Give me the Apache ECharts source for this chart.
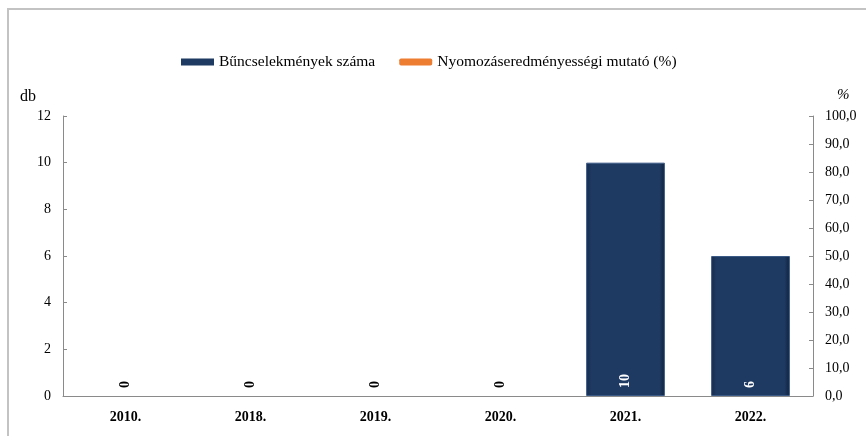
<!DOCTYPE html>
<html>
<head>
<meta charset="utf-8">
<script src="https://cdn.jsdelivr.net/npm/echarts@6/dist/echarts.min.js"></script>
<style>
  html, body { margin: 0; padding: 0; background: #fff; }
  #chart { width: 866px; height: 436px; }
</style>
</head>
<body>
<div id="chart"></div>
<script>
// Years on the category axis
var years = ['2010.', '2018.', '2019.', '2020.', '2021.', '2022.'];
// Number of recorded offences (db)
var offenceCounts = [0, 0, 0, 0, 10, 6];
// Investigation success rate (%), no values recorded
var successRate = [null, null, null, null, null, null];
// Tick settings for the two value axes
var countAxisMax = 12, countAxisStep = 2;
var rateAxisMax = 100, rateAxisStep = 10;

var serif = '"Liberation Serif", "Times New Roman", serif';
var navy = '#1f3a62';

var chart = echarts.init(document.getElementById('chart'), null, { renderer: 'canvas' });

var barData = offenceCounts.map(function (v) {
  return {
    value: v,
    itemStyle: { borderWidth: v > 0 ? 1 : 0 },
    label: { color: v > 0 ? '#ffffff' : '#000000' }
  };
});

chart.setOption({
  backgroundColor: '#ffffff',
  animation: false,
  textStyle: { fontFamily: serif },
  graphic: [
    {
      type: 'rect',
      shape: { x: 8, y: 9, width: 900, height: 500 },
      style: { fill: 'none', stroke: '#c3c3c3', lineWidth: 2 },
      silent: true
    },
    {
      type: 'text', left: 20, top: 89,
      style: { text: 'db', font: '16px ' + serif, fill: '#000' }
    },
    {
      type: 'text', left: 837, top: 88,
      style: { text: '%', font: 'italic 15px ' + serif, fill: '#000' }
    }
  ],
  legend: {
    top: 49,
    left: 176,
    itemGap: 24,
    itemWidth: 33,
    itemHeight: 7,
    textStyle: { fontFamily: serif, fontSize: 15.5, color: '#000' },
    data: [
      { name: 'Bűncselekmények száma', icon: 'rect', itemStyle: { color: navy } },
      { name: 'Nyomozáseredményességi mutató (%)', icon: 'roundRect', itemStyle: { color: '#ed7d31' } }
    ]
  },
  grid: { left: 63, right: 53, top: 116, bottom: 40 },
  xAxis: {
    type: 'category',
    data: years,
    axisLine: { lineStyle: { color: '#8a8a8a', width: 1 } },
    axisTick: { show: false },
    axisLabel: {
      fontFamily: serif, fontSize: 14, fontWeight: 'bold', color: '#000', margin: 14
    }
  },
  yAxis: [
    {
      type: 'value',
      min: 0, max: countAxisMax, interval: countAxisStep,
      splitLine: { show: false },
      axisLine: { show: true, lineStyle: { color: '#8a8a8a' } },
      axisTick: { show: true, inside: true, length: 4, lineStyle: { color: '#8a8a8a' } },
      axisLabel: { fontFamily: serif, fontSize: 14, color: '#000', margin: 12 }
    },
    {
      type: 'value',
      min: 0, max: rateAxisMax, interval: rateAxisStep,
      position: 'right',
      splitLine: { show: false },
      axisLine: { show: true, lineStyle: { color: '#8a8a8a' } },
      axisTick: { show: true, inside: true, length: 4, lineStyle: { color: '#8a8a8a' } },
      axisLabel: {
        fontFamily: serif, fontSize: 14, color: '#000', margin: 12,
        formatter: function (v) { return v.toFixed(1).replace('.', ','); }
      }
    }
  ],
  series: [
    {
      name: 'Bűncselekmények száma',
      type: 'bar',
      yAxisIndex: 0,
      barWidth: '63%',
      data: barData,
      itemStyle: {
        color: {
          type: 'linear', x: 0, y: 0, x2: 1, y2: 0,
          colorStops: [
            { offset: 0, color: '#142a4a' },
            { offset: 0.07, color: navy },
            { offset: 0.93, color: navy },
            { offset: 1, color: '#0f213b' }
          ]
        },
        borderColor: '#3c5a86'
      },
      label: {
        show: true,
        position: 'insideBottom',
        rotate: 90,
        align: 'left',
        verticalAlign: 'middle',
        distance: 8,
        fontFamily: serif,
        fontSize: 14,
        fontWeight: 'bold'
      }
    },
    {
      name: 'Nyomozáseredményességi mutató (%)',
      type: 'line',
      yAxisIndex: 1,
      data: successRate,
      lineStyle: { color: '#ed7d31', width: 4 },
      itemStyle: { color: '#ed7d31' },
      symbol: 'none'
    }
  ]
});
</script>
</body>
</html>
